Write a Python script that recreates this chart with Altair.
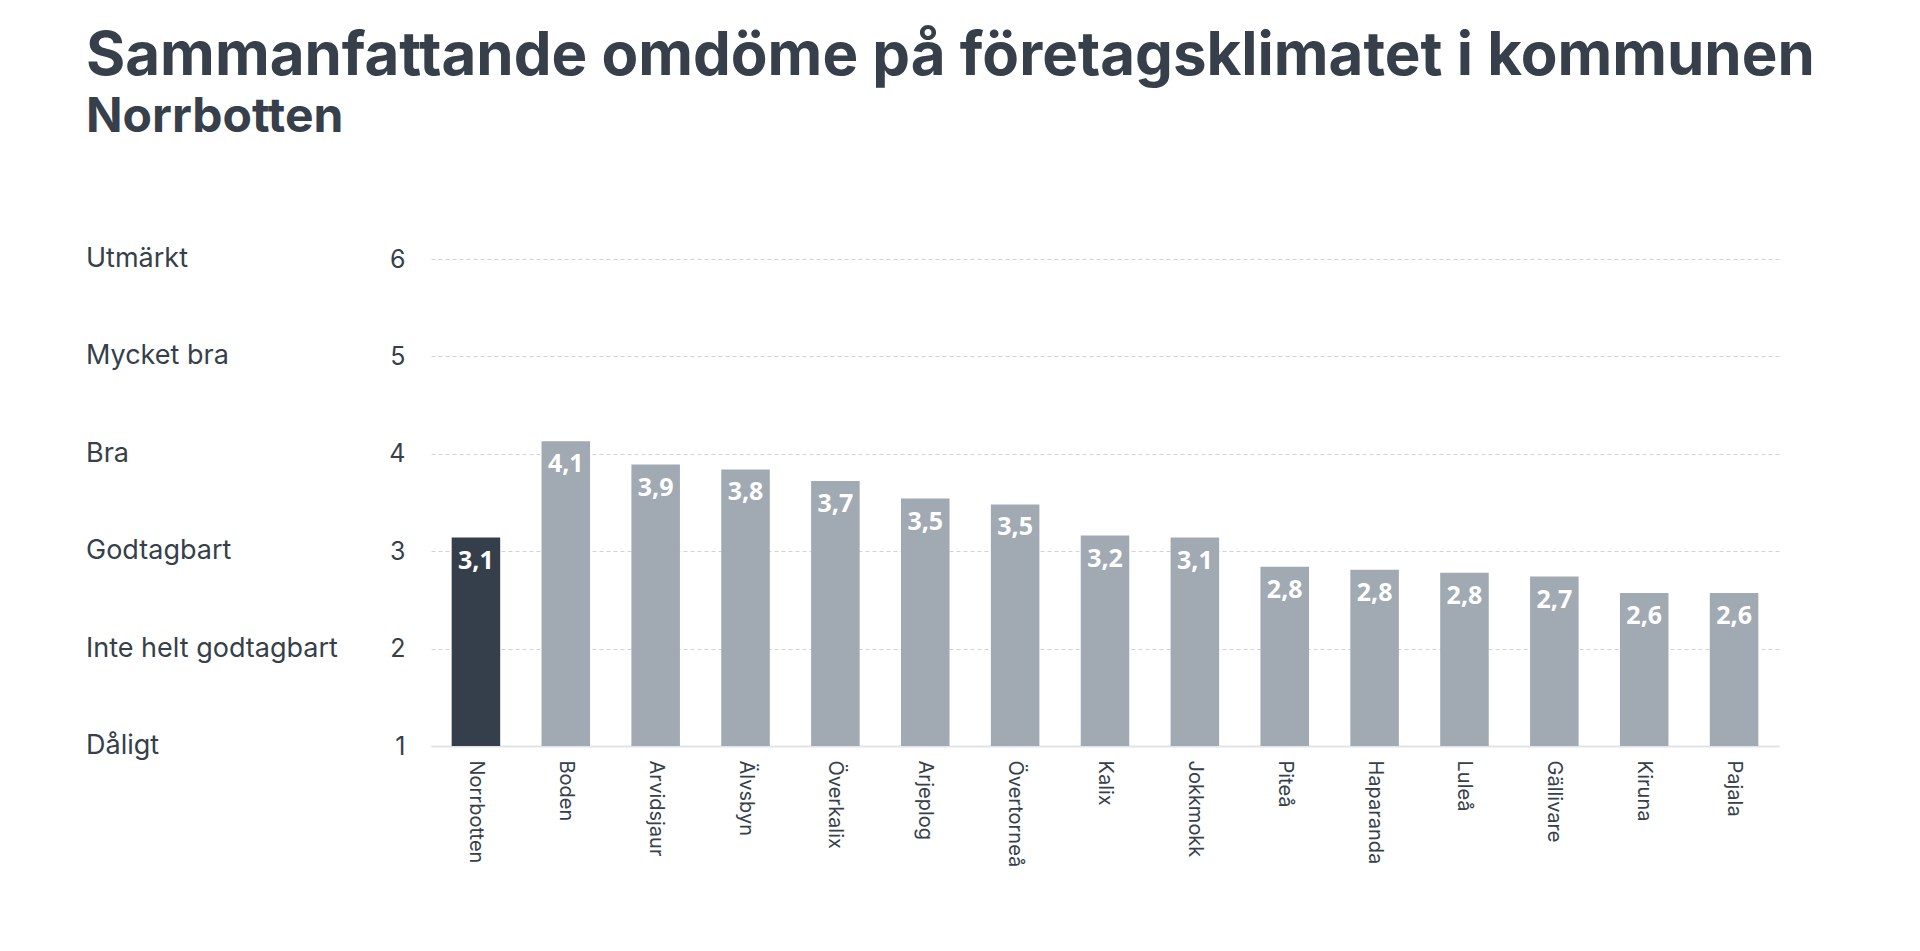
import altair as alt
import pandas as pd

kommuner = ["Norrbotten", "Boden", "Arvidsjaur", "Älvsbyn", "Överkalix", "Arjeplog",
            "Övertorneå", "Kalix", "Jokkmokk", "Piteå", "Haparanda", "Luleå",
            "Gällivare", "Kiruna", "Pajala"]
värden = [3.14, 4.13, 3.89, 3.84, 3.72, 3.54, 3.48, 3.16, 3.14, 2.84, 2.81, 2.78, 2.74, 2.57, 2.57]

nivåer = [1, 2, 3, 4, 5, 6]
nivånamn = ["Dåligt", "Inte helt godtagbart", "Godtagbart", "Bra", "Mycket bra", "Utmärkt"]

DARK = "#353e4b"
LIGHT = "#a1a9b3"
TEXT = "#363f4a"

df = pd.DataFrame({"kommun": kommuner, "värde": värden})
lv = pd.DataFrame({"nivå": nivåer, "namn": nivånamn})

yscale = alt.Scale(domain=[1, 6], zero=False, nice=False)

bars = alt.Chart(df).mark_bar().encode(
    x=alt.X("kommun:N", sort=None, title=None,
            scale=alt.Scale(paddingInner=0.46, paddingOuter=0.23),
            axis=alt.Axis(labelAngle=90, labelAlign="left", labelBaseline="middle",
                          labelFont="Inter", labelFontSize=20, labelColor=TEXT,
                          labelPadding=14, ticks=False, domainColor="#dfe4ea",
                          domainWidth=2, grid=False)),
    y=alt.Y("värde:Q", scale=yscale, title=None,
            axis=alt.Axis(values=nivåer, format="d", labelFont="Inter", labelFontSize=25,
                          labelColor=TEXT, labelPadding=26, ticks=False, domain=False,
                          grid=True, gridColor="#d0d3d8", gridDash=[4, 3], gridWidth=1)),
    y2=alt.datum(1),
    color=alt.condition(alt.datum.kommun == "Norrbotten", alt.value(DARK), alt.value(LIGHT)),
)

labels = alt.Chart(df).transform_calculate(
    etikett="replace(format(datum['värde'], '.1f'), '.', ',')"
).mark_text(baseline="top", dy=11, font="Open Sans", fontWeight="bold", fontSize=25,
            color="white").encode(
    x=alt.X("kommun:N", sort=None),
    y=alt.Y("värde:Q", scale=yscale),
    text="etikett:N",
)

levels = alt.Chart(lv).mark_text(align="left", baseline="middle", font="Inter",
                                 fontSize=27, color=TEXT).encode(
    x=alt.value(-345),
    y=alt.Y("nivå:Q", scale=yscale),
    text="namn:N",
)

chart = alt.layer(bars, labels, levels).properties(
    width=1348,
    height=487,
    padding={"left": 86, "top": 27, "right": 20, "bottom": 10},
    title=alt.TitleParams(
        text="Sammanfattande omdöme på företagsklimatet i kommunen",
        subtitle="Norrbotten",
        anchor="start",
        frame="bounds",
        font="Inter",
        fontSize=60,
        fontWeight="bold",
        color=TEXT,
        subtitleFont="Inter",
        subtitleFontSize=48,
        subtitleFontWeight="bold",
        subtitleColor=TEXT,
        subtitlePadding=6,
        offset=102,
    ),
).configure_view(stroke=None)

chart.save("out.html", embed_options={"renderer": "svg", "actions": False})
